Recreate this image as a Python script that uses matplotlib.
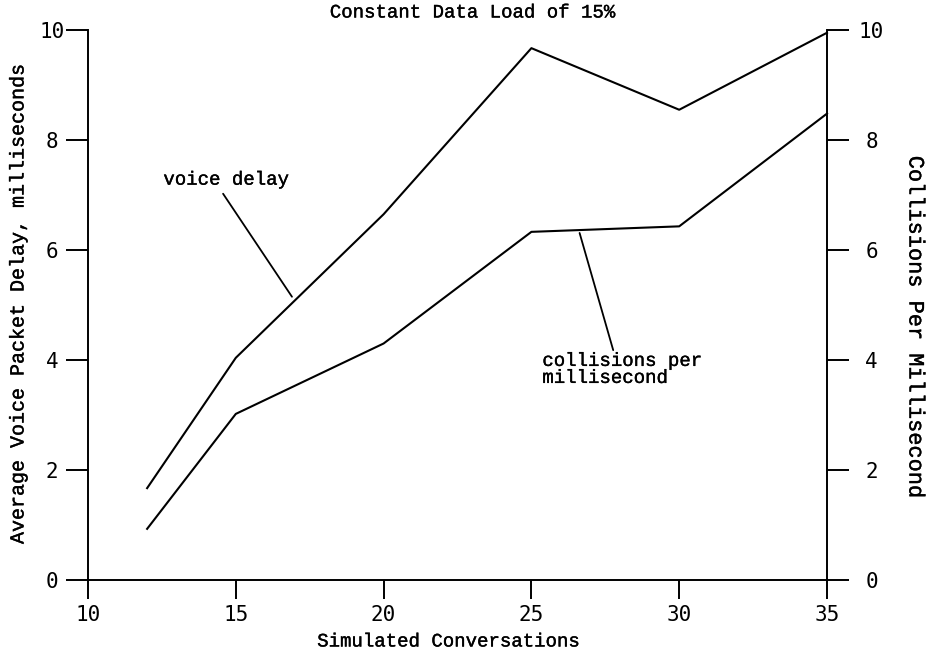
import matplotlib
matplotlib.use("Agg")
import matplotlib.pyplot as plt
import matplotlib.patheffects as pe

# ---- data ----
conversations = [12, 15, 20, 25, 30, 35]
voice_delay = [1.67, 4.04, 6.65, 9.67, 8.55, 9.95]
collisions = [0.93, 3.02, 4.3, 6.33, 6.43, 8.48]
x_ticks = [10, 15, 20, 25, 30, 35]
y_ticks = [0, 2, 4, 6, 8, 10]

title = "Constant Data Load of 15%"
xlabel = "Simulated Conversations"
ylabel_left = "Average Voice Packet Delay, milliseconds"
ylabel_right = "Collisions Per Millisecond"

LABEL_FONT = "Liberation Mono"
TICK_FONT = "DejaVu Sans Mono"
thick = [pe.withStroke(linewidth=0.25, foreground="black")]

fig = plt.figure(figsize=(9.29, 6.54), dpi=100)
ax = fig.add_axes([88/929, 1-580/654, (827-88)/929, (580-30)/654])
ax2 = ax.twinx()

lw = 1.5
ax.plot(conversations, voice_delay, color="black", lw=lw, clip_on=False)
ax2.plot(conversations, collisions, color="black", lw=lw, clip_on=False)

for a in (ax, ax2):
    a.set_xlim(10, 35)
    a.set_ylim(0, 10)
    a.spines["top"].set_visible(False)
    for s in a.spines.values():
        s.set_linewidth(1.4)

ax.spines["right"].set_visible(False)
ax2.spines["left"].set_visible(False)
ax2.spines["bottom"].set_visible(False)

ax.set_xticks(x_ticks)
ax.set_xticklabels([str(t) for t in x_ticks], family=TICK_FONT, fontsize=15)
ax.set_yticks(y_ticks)
ax.set_yticklabels([str(t) for t in y_ticks], family=TICK_FONT, fontsize=15, ha="center")
ax2.set_yticks(y_ticks)
ax2.set_yticklabels([str(t) for t in y_ticks], family=TICK_FONT, fontsize=15, ha="center")

ax.tick_params(axis="x", direction="out", length=14, width=1.4, pad=4)
ax.tick_params(axis="y", direction="out", length=16, width=1.4, pad=10)
ax2.tick_params(axis="y", direction="out", length=16, width=1.4, pad=16)

# annotations
t1 = ax.annotate("voice delay", xy=(16.9, 5.15), xytext=(12.55, 7.27),
                 family=LABEL_FONT, fontsize=13.7, ha="left", va="center",
                 arrowprops=dict(arrowstyle="-", color="black", lw=1.3,
                                 shrinkA=2, shrinkB=0, relpos=(0.45, 0.0)))
t2 = ax.annotate("collisions per\nmillisecond", xy=(26.63, 6.31), xytext=(25.37, 3.82),
                 family=LABEL_FONT, fontsize=13.7, ha="left", va="center", linespacing=1.0,
                 arrowprops=dict(arrowstyle="-", color="black", lw=1.3,
                                 shrinkA=0, shrinkB=0, relpos=(0.45, 1.0)))

texts = [t1, t2]
texts.append(fig.text(472/929, 1-13/654, title, family=LABEL_FONT, fontsize=13.7,
                      ha="center", va="center"))
texts.append(fig.text(448/929, 1-642/654, xlabel, family=LABEL_FONT, fontsize=13.7,
                      ha="center", va="center"))
texts.append(fig.text(18/929, 1-304/654, ylabel_left, family=LABEL_FONT, fontsize=14.4,
                      ha="center", va="center", rotation=90))
texts.append(fig.text(915/929, 1-328/654, ylabel_right, family=LABEL_FONT, fontsize=15.8,
                      ha="center", va="center", rotation=-90))
for t in texts:
    t.set_path_effects(thick)

fig.savefig("out.png", dpi=100)
